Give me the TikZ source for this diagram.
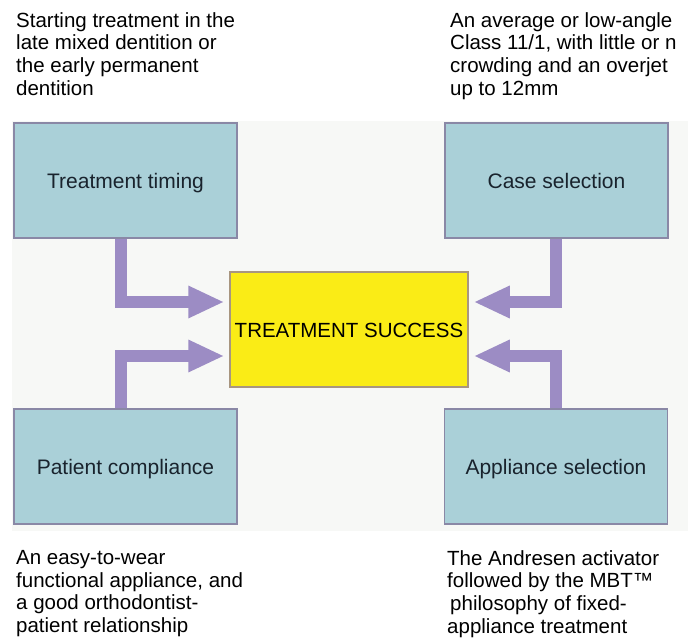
\documentclass[tikz,border=0pt]{standalone}
\usepackage{fontspec}
\setmainfont{Liberation Sans}
\usetikzlibrary{arrows.meta}
\definecolor{boxfill}{RGB}{170,208,216}
\definecolor{boxborder}{RGB}{138,136,166}
\definecolor{boxtext}{RGB}{25,35,45}
\definecolor{goalfill}{RGB}{250,236,22}
\definecolor{goalborder}{RGB}{168,150,128}
\definecolor{arrowcol}{RGB}{156,140,196}
\definecolor{panel}{RGB}{247,248,246}
\begin{document}
\begin{tikzpicture}[x=1pt,y=-1pt,
  factor/.style={draw=boxborder, line width=1.5pt, fill=boxfill,
    minimum width=223pt, minimum height=115pt, inner sep=0pt,
    text height=16pt, text depth=0pt,
    text=boxtext, font=\fontsize{21}{24}\selectfont},
  goal/.style={draw=goalborder, line width=1.5pt, fill=goalfill,
    minimum width=238pt, minimum height=115pt, inner sep=0pt,
    text height=15pt, text depth=0pt,
    text=black, font=\fontsize{20.5}{24}\selectfont},
  note/.style={anchor=north west, align=left, inner sep=0pt,
    text=black, font=\fontsize{20.5}{22.6}\selectfont},
  flow/.style={draw=arrowcol, line width=12pt,
    -{Triangle[length=36pt,width=30pt]}}
]
\useasboundingbox (0,0) rectangle (688,639);
\fill[panel] (12,121) rectangle (688,531);

% factor boxes
\node[factor] (tt) at (125.5,180.5) {Treatment timing};
\node[factor] (cs) at (556.5,180.5) {Case selection};
\node[factor] (pc) at (125.5,466.5) {Patient compliance};
\node[factor] (as) at (556,466.5) {Appliance selection};
% goal box
\node[goal] (ts) at (349,329.5) {TREATMENT SUCCESS};

% connectors
\draw[flow] ([xshift=-4.5pt]tt.south) |- ([xshift=-5pt,yshift=27.5pt]ts.west);
\draw[flow] ([xshift=-4.5pt]pc.north) |- ([xshift=-5pt,yshift=-26.5pt]ts.west);
\draw[flow] ([xshift=-0.5pt]cs.south) |- ([xshift=5pt,yshift=27.5pt]ts.east);
\draw[flow] (as.north) |- ([xshift=5pt,yshift=-26.5pt]ts.east);

% notes
\node[note] (n1) at (16,12.2) {Starting treatment in the\\late mixed dentition or\\the early permanent\\dentition};
\node[note] (n2) at (450,12.2) {An average or low-angle\\Class 11/1, with little or n\\crowding and an overjet\\up to 12mm};
\node[note] (n3) at (16,550.2) {An easy-to-wear\\functional appliance, and\\a good orthodontist-\\patient relationship};
\node[note] (n4) at (447,550.2) {The Andresen activator\\followed by the MBT™\\\hspace{3pt}philosophy of fixed-\\appliance treatment};
\end{tikzpicture}
\end{document}
